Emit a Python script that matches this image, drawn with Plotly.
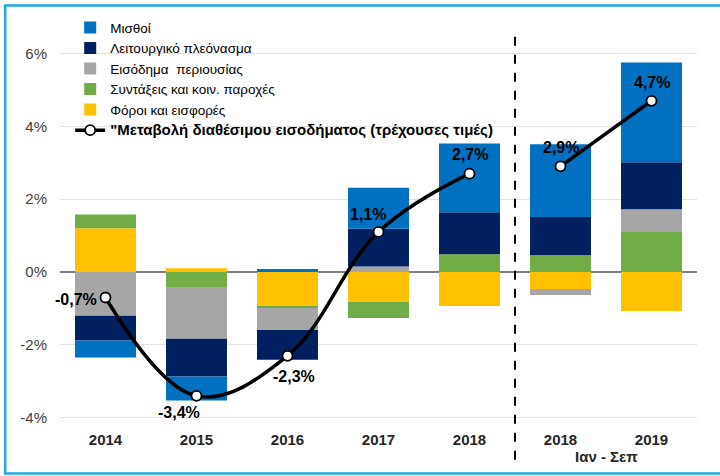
import plotly.graph_objects as go

# ======================================================
# Data
# ======================================================
periods = ["2014", "2015", "2016", "2017", "2018", "2018", "2019"]
period_note = "Ιαν - Σεπ"

wages = [-0.47, -0.66, 0.08, 1.12, 1.89, 2.00, 2.74]
operating_surplus = [-0.68, -1.04, -0.82, 1.04, 1.15, 1.04, 1.29]
property_income = [-1.20, -1.42, -0.60, 0.15, 0.00, -0.16, 0.60]
pensions = [0.38, -0.41, -0.06, -0.44, 0.49, 0.47, 1.12]
taxes = [1.20, 0.10, -0.93, -0.82, -0.93, -0.47, -1.07]

income_change = [-0.7, -3.4, -2.3, 1.1, 2.7, 2.9, 4.7]
income_labels = ["-0,7%", "-3,4%", "-2,3%", "1,1%", "2,7%", "2,9%", "4,7%"]

y_ticks = [-4, -2, 0, 2, 4, 6]

x_pos = list(range(len(periods)))

# ======================================================
# Figure
# ======================================================
fig = go.Figure()

# stacking order from zero outwards: taxes, pensions, property, surplus, wages
series = [
    ("Φόροι και εισφορές", taxes, "#FFC000", 5),
    ("Συντάξεις και κοιν. παροχές", pensions, "#70AD47", 4),
    ("Εισόδημα  περιουσίας", property_income, "#A6A6A6", 3),
    ("Λειτουργικό πλεόνασμα", operating_surplus, "#002060", 2),
    ("Μισθοί", wages, "#0070C0", 1),
]

for name, vals, color, rank in series:
    fig.add_trace(go.Bar(
        x=x_pos,
        y=vals,
        name=name,
        marker=dict(color=color, line=dict(width=0)),
        width=0.67,
        legendrank=rank,
    ))

line_name = ("<span style=\"font-size:15px\"><b>\"Μεταβολή διαθέσιμου "
             "εισοδήματος (τρέχουσες τιμές)</b></span>")

# two separate segments, split at the dashed divider
fig.add_trace(go.Scatter(
    x=x_pos[:5] + [None] + x_pos[5:],
    y=income_change[:5] + [None] + income_change[5:],
    mode="lines+markers",
    name=line_name,
    line=dict(color="black", width=3.5, shape="spline", smoothing=1.1),
    marker=dict(size=10, color="white", line=dict(color="black", width=1.8)),
    connectgaps=False,
    legendrank=6,
))

# value labels
label_shift = [(-30, -2), (-18, -17), (6, -21), (-11, 17), (0, 19), (0, 19), (0, 18)]
for xi, yi, txt, (dx, dy) in zip(x_pos, income_change, income_labels, label_shift):
    fig.add_annotation(
        x=xi, y=yi, text=f"<b>{txt}</b>",
        showarrow=False, xshift=dx, yshift=dy,
        font=dict(size=16, color="black"),
    )

fig.add_annotation(
    x=5.5, y=-0.0775, xref="x", yref="paper",
    yanchor="middle",
    text=f"<b>{period_note}</b>", showarrow=False,
    font=dict(size=15, color="#262626"),
)

# dashed divider between annual and Jan-Sep data
divider = (4.5 + 0.5) / len(periods)
fig.add_shape(
    type="line", xref="paper", yref="paper",
    x0=divider, x1=divider, y0=-0.085, y1=0.969,
    line=dict(color="black", width=2, dash="dash"),
)

# outer frame
fig.add_shape(
    type="rect", xref="paper", yref="paper",
    x0=-0.086, x1=1.045, y0=-0.119, y1=1.028,
    line=dict(color="#1FA7E1", width=2.5),
)

fig.update_layout(
    width=720,
    height=476,
    barmode="relative",
    plot_bgcolor="white",
    paper_bgcolor="white",
    margin=dict(l=60, r=23, t=16.5, b=50.7),
    font=dict(family="Arial, Liberation Sans, sans-serif", color="#262626"),
    showlegend=True,
    legend=dict(
        x=0.016, y=1.012, xanchor="left", yanchor="top",
        bgcolor="rgba(0,0,0,0)",
        font=dict(size=13.5, color="black"),
        tracegroupgap=0,
        itemwidth=30,
    ),
)

fig.update_xaxes(
    range=[-0.5, 6.5],
    tickvals=x_pos,
    ticktext=[f"<b>{p}</b>" for p in periods],
    tickfont=dict(size=15, color="#262626"),
    ticklabelstandoff=4,
    showgrid=False,
    zeroline=False,
    showline=False,
)

fig.update_yaxes(
    range=[-4.2, 7.0],
    tickvals=y_ticks,
    ticktext=[f"{t}%" for t in y_ticks],
    tickfont=dict(size=15, color="#404040"),
    ticklabelstandoff=12,
    showgrid=True,
    gridcolor="#E3E3E3",
    gridwidth=1,
    zeroline=True,
    zerolinecolor="#7F7F7F",
    zerolinewidth=1.5,
    showline=False,
)

# page body margin would otherwise offset the figure by 8px
fig.write_html(
    "out.html",
    config={"displayModeBar": False},
    post_script="document.body.style.margin='0';",
)
